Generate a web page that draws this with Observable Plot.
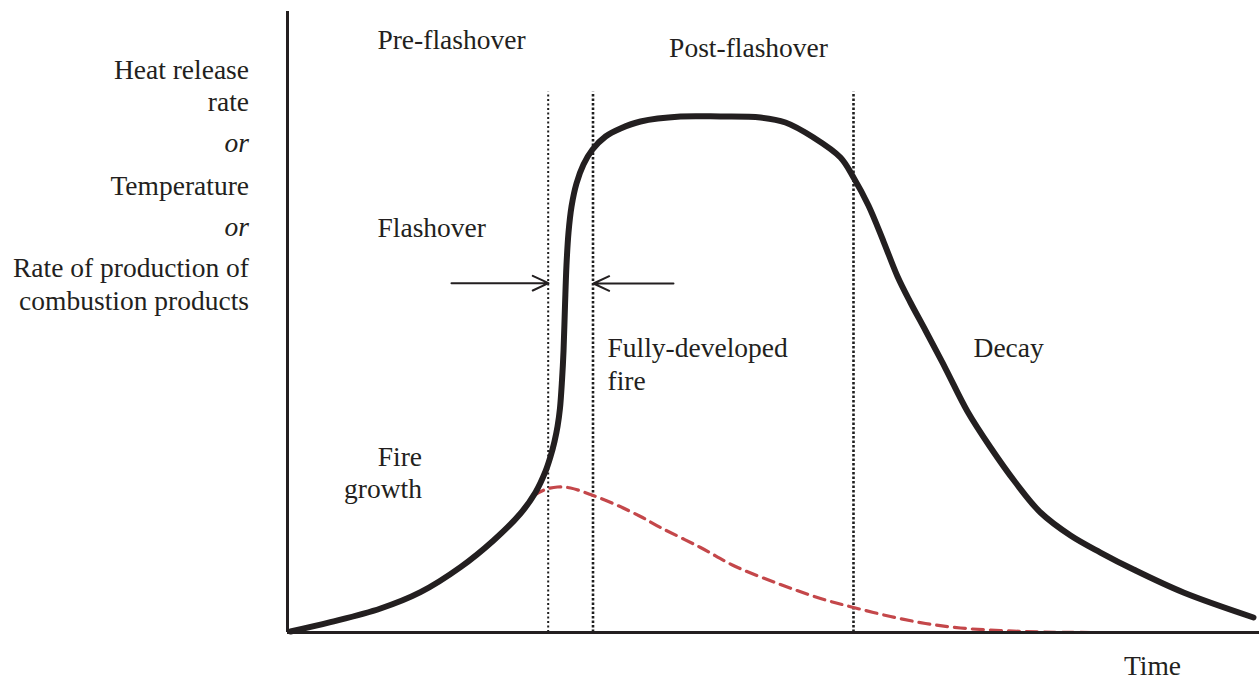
<!DOCTYPE html>
<html>
<head>
<meta charset="utf-8">
<script src="https://cdn.jsdelivr.net/npm/d3@7"></script>
<script src="https://cdn.jsdelivr.net/npm/@observablehq/plot@0.6"></script>
<style>
  html, body { margin: 0; padding: 0; background: #fff; }
  #chart svg { display: block; }
</style>
</head>
<body>
<div id="chart"></div>
<script>
// ---- Data (schematic fire curve, time and level in relative units 0-100) ----
const fireTime = [0.31, 4.42, 9.57, 13.68, 17.80, 21.19, 23.97, 25.51, 26.54, 27.06, 27.47, 27.78, 28.03, 28.24, 28.40, 28.55, 28.70, 28.91, 29.22, 29.73, 30.45, 31.38, 32.72, 34.26, 36.32, 40.43, 44.55, 48.66, 51.23, 54.12, 56.89, 58.23, 59.77, 61.32, 62.76, 64.09, 65.64, 67.70, 69.96, 72.33, 74.90, 77.47, 80.56, 83.64, 87.04, 92.18, 99.38];
const fireLevel = [0.16, 1.66, 3.86, 6.49, 10.52, 14.81, 19.16, 22.54, 25.93, 28.34, 30.76, 33.17, 36.07, 40.58, 45.41, 52.66, 59.10, 64.41, 68.60, 72.30, 75.36, 77.78, 79.87, 81.16, 82.29, 83.09, 83.09, 82.93, 82.13, 79.71, 76.49, 73.27, 68.76, 62.96, 57.33, 53.14, 48.63, 42.51, 35.59, 29.79, 24.15, 19.32, 15.62, 12.88, 10.14, 6.44, 2.42];

const noFlashTime = [25.31, 26.54, 27.78, 29.12, 31.17, 33.74, 36.32, 38.37, 42.49, 46.09, 50.72, 54.84, 58.23, 62.04, 65.64, 69.24, 73.35, 77.47, 82.92];
const noFlashLevel = [22.06, 23.03, 23.43, 23.27, 22.22, 20.61, 18.68, 16.91, 13.69, 10.63, 7.73, 5.48, 4.03, 2.58, 1.45, 0.72, 0.32, 0.08, 0];

const phaseBoundaries = [26.82, 31.43, 58.23];
const boundaryTop = 87;

const arrowFrom = [16.87, 39.71];
const arrowTo = [26.85, 31.48];
const arrowLevel = [56.25, 56.2];

const yLabelLines = ["Heat release", "rate", "or", "Temperature", "or", "Rate of production of", "combustion products"];
const yLabelItalic = [false, false, true, false, true, false, false];

// ---- Build tables ----
const fireCurve = fireTime.map((t, i) => ({t, v: fireLevel[i]}));
const noFlashCurve = noFlashTime.map((t, i) => ({t, v: noFlashLevel[i]}));
const arrows = arrowFrom.map((a, i) => ({x1: a, x2: arrowTo[i], y: arrowLevel[i]}));

// layout of the y label block (baselines, in value units)
const yLabelBaseline = [89.16, 83.9, 77.3, 70.5, 63.9, 57.2, 51.9];
const yLabels = yLabelLines.map((text, i) => ({text, italic: yLabelItalic[i], y: yLabelBaseline[i]}));

const ink = "#231f20";
const font = "'Liberation Serif', 'Times New Roman', serif";
const txt = {fill: ink, fontFamily: font, fontSize: 27.5, lineAnchor: "bottom"};

const chart = Plot.plot({
  width: 1259,
  height: 680,
  marginLeft: 287,
  marginRight: 0,
  marginTop: 11,
  marginBottom: 48,
  x: {domain: [0, 100], axis: null},
  y: {domain: [0, 100], axis: null},
  style: {fontFamily: font, fontSize: "27.5px", background: "#fff", overflow: "visible", color: ink},
  marks: [
    // phase boundary dotted lines
    Plot.ruleX([phaseBoundaries[0]], {y1: 0, y2: boundaryTop, stroke: "#1e1e1e", strokeWidth: 2, strokeDasharray: "2,2.5"}),
    Plot.ruleX(phaseBoundaries.slice(1), {y1: 0, y2: boundaryTop, stroke: "#1e1e1e", strokeWidth: 2.6, strokeDasharray: "2.5,2"}),
    // red dashed curve
    Plot.line(noFlashCurve, {x: "t", y: "v", stroke: "#c4474a", strokeWidth: 3.2, strokeDasharray: "11,7", curve: "catmull-rom"}),
    // main curve
    Plot.line(fireCurve, {x: "t", y: "v", stroke: ink, strokeWidth: 6, curve: "catmull-rom"}),
    // axes
    Plot.ruleY([0], {stroke: ink, strokeWidth: 3}),
    Plot.ruleX([0], {stroke: ink, strokeWidth: 3}),
    // flashover arrows
    Plot.arrow(arrows, {x1: "x1", x2: "x2", y1: "y", y2: "y", stroke: ink, strokeWidth: 2, headLength: 13, headAngle: 50}),
    // annotations
    Plot.text(["Pre-flashover"], {...txt, x: 16.87, y: 93.9, text: d => d, textAnchor: "middle"}),
    Plot.text(["Post-flashover"], {...txt, x: 47.43, y: 92.75, text: d => d, textAnchor: "middle"}),
    Plot.text(["Flashover"], {...txt, x: 9.26, y: 63.61, text: d => d, textAnchor: "start"}),
    Plot.text(["Fully-developed\nfire"], {...txt, x: 32.92, y: 39.13, text: d => d, textAnchor: "start", lineHeight: 1.17}),
    Plot.text(["Decay"], {...txt, x: 70.58, y: 44.44, text: d => d, textAnchor: "start"}),
    Plot.text(["Fire\ngrowth"], {...txt, x: 13.84, y: 21.66, text: d => d, textAnchor: "end", lineHeight: 1.18}),
    Plot.text(["Time"], {...txt, x: 88.99, y: -6.92, text: d => d, textAnchor: "middle"}),
    // y label block
    Plot.text(yLabels.filter(d => !d.italic), {...txt, x: -3.96, y: "y", text: "text", textAnchor: "end"}),
    Plot.text(yLabels.filter(d => d.italic), {...txt, x: -3.96, y: "y", text: "text", textAnchor: "end", fontStyle: "italic"})
  ]
});

document.getElementById("chart").appendChild(chart);
</script>
</body>
</html>
